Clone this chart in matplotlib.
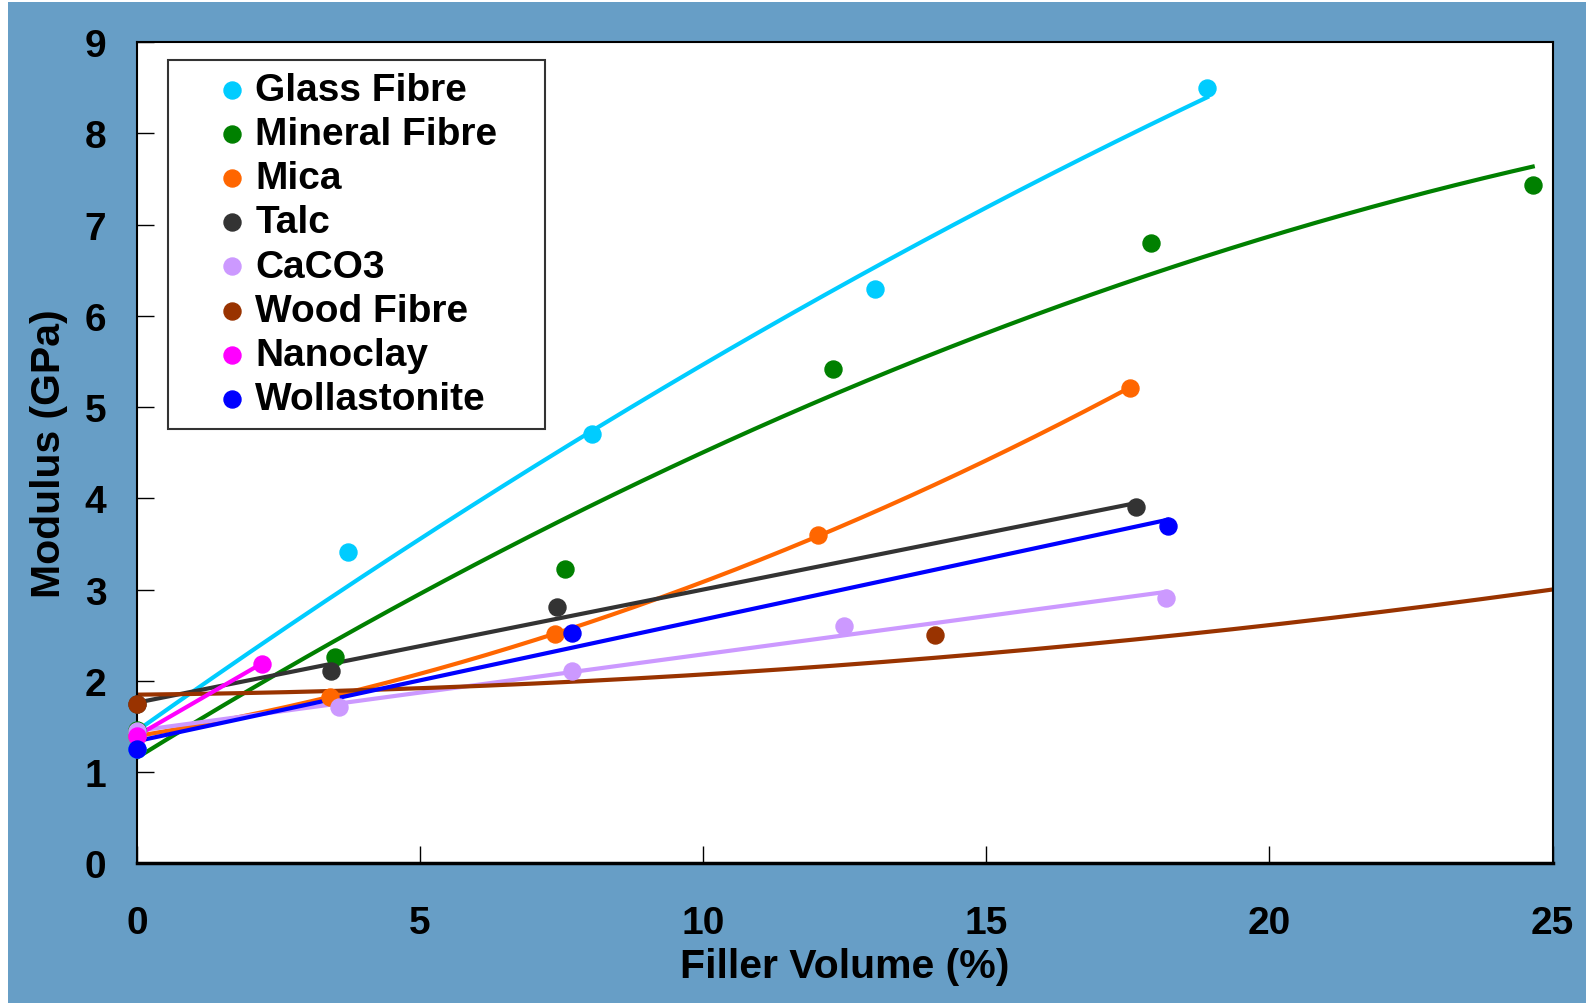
import numpy as np
import matplotlib
matplotlib.use("Agg")
import matplotlib.pyplot as plt
from matplotlib.patches import Rectangle

plt.rcParams['font.family'] = ['Liberation Sans', 'DejaVu Sans']
plt.rcParams['font.weight'] = 'bold'

# filler volume (%) and modulus (GPa)
glass_x = [0, 3.73, 8.04, 13.04, 18.9]
glass_y = [1.25, 3.41, 4.71, 6.30, 8.50]
mineral_x = [0, 3.5, 7.56, 12.3, 17.9, 24.65]
mineral_y = [1.46, 2.26, 3.23, 5.42, 6.80, 7.44]
mica_x = [0, 3.4, 7.38, 12.03, 17.53]
mica_y = [1.40, 1.82, 2.51, 3.60, 5.21]
talc_x = [0, 3.43, 7.42, 17.64]
talc_y = [1.75, 2.11, 2.81, 3.91]
caco3_x = [0, 3.57, 7.68, 12.49, 18.17]
caco3_y = [1.45, 1.71, 2.11, 2.60, 2.91]
# wood fibre has points beyond the plotted range (off chart)
wood_x = [0, 14.1, 30, 35, 40]
wood_y = [1.75, 2.50, 3.60, 3.29, 5.11]
nano_x = [0, 2.2]
nano_y = [1.40, 2.19]
woll_x = [0, 7.68, 18.2]
woll_y = [1.25, 2.52, 3.70]

names = ['Glass Fibre', 'Mineral Fibre', 'Mica', 'Talc', 'CaCO3',
         'Wood Fibre', 'Nanoclay', 'Wollastonite']
colors = ['#00CCFF', '#008000', '#FF6600', '#333333', '#CC99FF',
          '#993300', '#FF00FF', '#0000FF']
series = [(glass_x, glass_y, 2), (mineral_x, mineral_y, 2), (mica_x, mica_y, 2),
          (talc_x, talc_y, 1), (caco3_x, caco3_y, 1), (wood_x, wood_y, 2),
          (nano_x, nano_y, 1), (woll_x, woll_y, 1)]

fig = plt.figure(figsize=(15.86, 10.04), dpi=100, facecolor='white')
fig.patches.append(Rectangle((8 / 1586, 0), 1, 1 - 3 / 1004, transform=fig.transFigure,
                             facecolor='#679EC6', edgecolor='none', zorder=-1))
ax = fig.add_axes([0.0864, 0.139, 0.8925, 0.818])
ax.set_facecolor('white')

handles = []
for (xs, ys, deg), name, c in zip(series, names, colors):
    xs = np.array(xs)
    ys = np.array(ys)
    coef = np.polyfit(xs, ys, deg)
    xmax = min(xs.max(), 25)
    xx = np.linspace(0, xmax, 200)
    ax.plot(xx, np.polyval(coef, xx), color=c, lw=3, zorder=2)
    keep = xs <= 25
    h = ax.scatter(xs[keep], ys[keep], s=150, color=c, zorder=3, label=name,
                   clip_on=False)
    handles.append(h)

ax.set_xlim(0, 25)
ax.set_ylim(0, 9)
ax.set_xticks(range(0, 26, 5))
ax.set_yticks(range(0, 10))
ax.tick_params(direction='in', length=12, width=1, labelsize=28, pad=22,
               top=False, right=False)
ax.tick_params(axis='x', pad=30)
for sp in ax.spines.values():
    sp.set_linewidth(1.5)
ax.spines['bottom'].set_linewidth(2.5)

ax.set_xlabel('Filler Volume (%)', fontsize=29.5, fontweight='bold', labelpad=4)
ax.set_ylabel('Modulus (GPa)', fontsize=29.5, fontweight='bold', labelpad=12)

leg = ax.legend(handles=handles, loc='upper left',
                bbox_to_anchor=(0.022, 0.0, 0.2665, 0.978), mode='expand',
                fontsize=28, frameon=True, fancybox=False, edgecolor='black',
                handletextpad=-0.73, labelspacing=0.21, borderpad=0.3,
                borderaxespad=0, handlelength=2.67, scatterpoints=1)
leg.get_frame().set_linewidth(1.5)
for t in leg.get_texts():
    t.set_fontweight('bold')

fig.savefig('out.png', dpi=100, facecolor=fig.get_facecolor())
